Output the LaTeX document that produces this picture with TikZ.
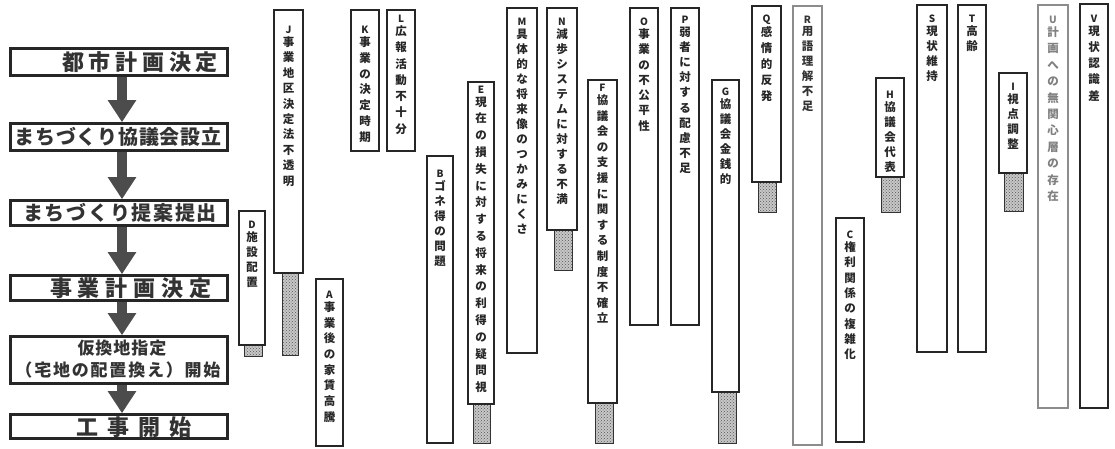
\documentclass[tikz,border=0pt]{standalone}
\usepackage{fontspec}
\setmainfont{Noto Sans CJK JP}
\usetikzlibrary{fit,calc,arrows.meta,patterns}
\makeatletter
\newcommand\vchars[2]{\edef\vtmp{#2}\expandafter\vcharsi\expandafter{\vtmp}{#1}}
\newcommand\vcharsi[2]{\vbox{\baselineskip=#2\relax\lineskip=0pt\lineskiplimit=-\maxdimen\@tfor\vch:=#1\do{\hbox to 16pt{\hss\vch\hss}}}}
\newcommand\spaced[2]{\@tfor\vch:=#2\do{\vch\kern#1}\kern-#1}
\makeatother
\tikzset{
 flowbox/.style={draw=black!85, line width=2.6pt, inner sep=0pt},
 flowtext/.style={inner sep=0pt, text=black!80},
 colbox/.style={draw=black!85, line width=1.1pt, fill=white, inner sep=0pt},
 colboxg/.style={colbox, draw=black!45},
 hatchbox/.style={draw=black!80, line width=1pt, inner sep=0pt, preaction={fill=black!22}, pattern=crosshatch dots, pattern color=black!65},
 flowarrow/.style={draw=black!70, line width=10pt, -{Triangle[width=27pt,length=22pt]}},
 coltext/.style={inner sep=0pt, anchor=north, font=\fontsize{11.5}{15}\selectfont\bfseries},
 colletter/.style={inner sep=0pt, font=\fontsize{10}{12}\selectfont\bfseries},
}
\begin{document}
\begin{tikzpicture}[x=1pt,y=-1pt]
\useasboundingbox (0,0) rectangle (1115,449);
% flow boxes
\node[flowbox, fit={(10.5,48.5) (227.5,75.5)}] (F1) {};
\node[flowbox, fit={(10.5,123.5) (227.5,150.5)}] (F2) {};
\node[flowbox, fit={(10.5,200.5) (227.5,225.5)}] (F3) {};
\node[flowbox, fit={(10.5,275.5) (227.5,300.5)}] (F4) {};
\node[flowbox, fit={(10.5,336.5) (227.5,383.5)}] (F5) {};
\node[flowbox, fit={(10.5,414.5) (227.5,438.5)}] (F6) {};
\node[flowtext, font=\fontsize{22}{24}\selectfont\bfseries] (T1) at (140,62) {\spaced{4.7pt}{都市計画決定}};
\node[flowtext, font=\fontsize{20}{22}\selectfont\bfseries] (T2) at (118,137) {\spaced{0.7pt}{まちづくり協議会設立}};
\node[flowtext, font=\fontsize{20}{22}\selectfont\bfseries] (T3) at (120,213) {\spaced{1.7pt}{まちづくり提案提出}};
\node[flowtext, font=\fontsize{22}{24}\selectfont\bfseries] (T4) at (131,288) {\spaced{6pt}{事業計画決定}};
\node[flowtext, font=\fontsize{17}{19}\selectfont\bfseries] (T5a) at (122,348) {\spaced{1pt}{仮換地指定}};
\node[flowtext, font=\fontsize{17}{19}\selectfont\bfseries] (T5b) at (118,370) {\spaced{1.8pt}{（宅地の配置換え）開始}};
\node[flowtext, font=\fontsize{22}{24}\selectfont\bfseries] (T6) at (134,427) {\spaced{9pt}{工事開始}};
\foreach \fa/\fb in {F1/F2,F2/F3,F3/F4,F4/F5,F5/F6}
  \draw[flowarrow] ($(\fa.south)+(3,0)$) -- ($(\fb.north)+(3,0)$);
% hatched blocks
\foreach \hn/\hxa/\hxb/\hya/\hyb in {J/282/298/273/355, D/244/262/345/356, E/473/490/404/443, N/554/572/230/270, F/595/613/403/443, G/718/736/392/443, Q/758/776/182/212, H/881/900/177/212, I/1004/1023/173/211}
  \node[hatchbox, fit={(\hxa,\hya) (\hxb,\hyb)}] (\hn-h) {};
% columns
\foreach \cn/\cxa/\cxb/\cya/\cyb/\clt/\cch/\csp/\cfo/\cst/\ctc in {
 D/239/265/211/345/D/施設配置/15/27/colbox/black!85,
 J/274/303/10/273/J/事業地区決定法不透明/15.4/33/colbox/black!85,
 K/351/379/10/151/K/事業の決定時期/15.8/33/colbox/black!85,
 L/387/415/10/151/L/広報活動不十分/16.3/22/colbox/black!85,
 A/316/343/279/446/A/事業後の家賃高騰/15.7/29/colbox/black!85,
 B/427/453/156/443/B/ゴネ得の問題/15/31/colbox/black!85,
 E/468/494/82/404/E/現在の損失に対する将来の利得の疑問視/16.8/21/colbox/black!85,
 M/507/537/8/353/M/具体的な将来像のつかみにくさ/15/27/colbox/black!85,
 N/547/577/8/230/N/減歩システムに対する不満/15/27/colbox/black!85,
 F/588/617/80/403/F/協議会の支援に関する制度不確立/15.6/21/colbox/black!85,
 O/630/658/8/325/O/事業の不公平性/15.3/27/colbox/black!85,
 P/671/699/8/325/P/弱者に対する配慮不足/15.2/25/colbox/black!85,
 G/712/739/80/392/G/協議会金銭的/15/25/colbox/black!85,
 Q/752/781/6/182/Q/感情的反発/16/27/colbox/black!85,
 R/793/822/6/445/R/用語理解不足/15/27/colboxg/black!80,
 C/836/864/218/442/C/権利関係の複雑化/15.3/30/colbox/black!85,
 H/876/904/78/177/H/協議会代表/15/30/colbox/black!85,
 S/917/947/5/352/S/現状維持/15/27/colbox/black!85,
 T/958/986/5/352/T/高齢/15/27/colbox/black!85,
 I/999/1027/73/173/I/視点調整/15/27/colbox/black!85,
 U/1038/1068/5/408/U/計画への無関心層の存在/16.4/28/colboxg/black!50,
 V/1080/1108/4/408/V/現状認識差/16.3/28/colbox/black!85}
{
 \node[\cst, fit={(\cxa,\cya) (\cxb,\cyb)}] (\cn) {};
 \node[colletter, text=\ctc] (\cn-l) at ($(\cn.north)+(0,\cfo-13)$) {\clt};
 \node[coltext, text=\ctc] (\cn-c) at ($(\cn.north)+(0,\cfo-6)$) {\vchars{\csp pt}{\cch}};
}
\end{tikzpicture}
\end{document}
